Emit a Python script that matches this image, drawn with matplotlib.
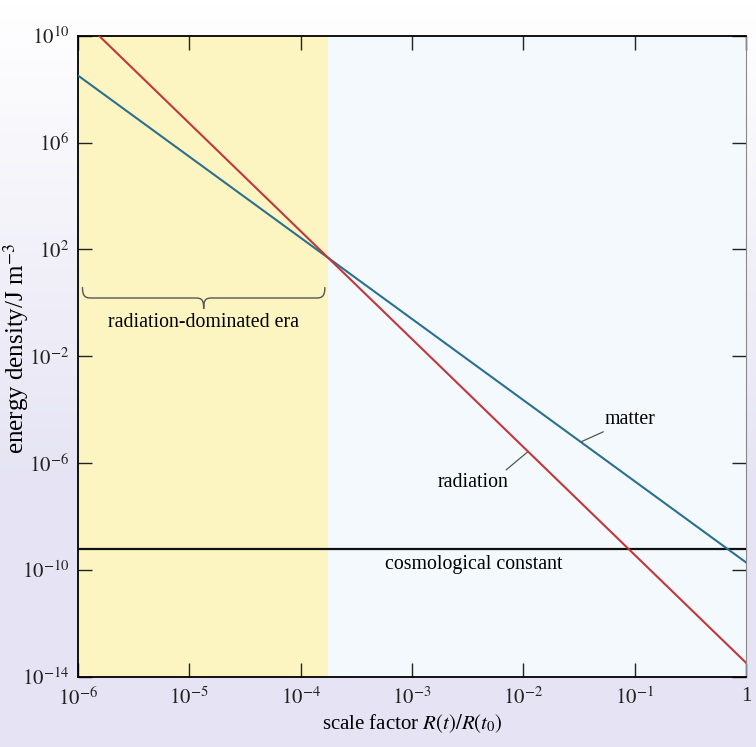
import numpy as np
import matplotlib
matplotlib.use("Agg")
import matplotlib.pyplot as plt
from matplotlib.path import Path
from matplotlib.patches import PathPatch
from matplotlib.ticker import FuncFormatter

plt.rcParams['font.family'] = ['Liberation Serif', 'DejaVu Serif']
plt.rcParams['mathtext.fontset'] = 'stix'

# scale factor range and end points of the two power laws
scale = [1e-6, 1.0]
matter = [3.3e8, 1.9e-10]
radiation = [5.9e10, 3.3e-14]
cosmological = [6.2e-10, 6.2e-10]
era_end = 1.76e-4   # matter-radiation equality

x_ticks = [1e-6, 1e-5, 1e-4, 1e-3, 1e-2, 1e-1, 1.0]
y_ticks = [1e-14, 1e-10, 1e-6, 1e-2, 1e2, 1e6, 1e10]


def power_label(v, pos):
    n = int(round(np.log10(v)))
    if n == 0:
        return '1'
    return r'$10^{%d}$' % n


def to_axes_x(ax, x):
    lo, hi = np.log10(ax.get_xlim())
    return (np.log10(x) - lo) / (hi - lo)


def brace(ax, x0, x1, y, h, color='#555555'):
    # curly brace drawn in axes fraction, opening upwards
    c = 0.5 * (x0 + x1)
    r = 0.012
    verts = [(x0, y + h), (x0, y + 0.3 * h), (x0 + 0.2 * r, y), (x0 + r, y),
             (c - r, y),
             (c - 0.2 * r, y), (c, y - 0.2 * h), (c, y - h),
             (c, y - 0.2 * h), (c + 0.2 * r, y), (c + r, y),
             (x1 - r, y),
             (x1 - 0.2 * r, y), (x1, y + 0.3 * h), (x1, y + h)]
    codes = [Path.MOVETO, Path.CURVE4, Path.CURVE4, Path.CURVE4,
             Path.LINETO,
             Path.CURVE4, Path.CURVE4, Path.CURVE4,
             Path.CURVE4, Path.CURVE4, Path.CURVE4,
             Path.LINETO,
             Path.CURVE4, Path.CURVE4, Path.CURVE4]
    ax.add_patch(PathPatch(Path(verts, codes), transform=ax.transAxes,
                           fill=False, lw=1.0, color=color, clip_on=False))


fig = plt.figure(figsize=(7.56, 7.47), dpi=100)

# page tint behind the figure: white at the top fading to lavender
bg = fig.add_axes([0, 0, 1, 1], zorder=-10)
ramp = np.clip(np.linspace(0, 1.6, 200), 0, 1)[:, None] * np.ones((1, 10))
tint = np.array([1.0, 1.0, 1.0]) * (1 - ramp[..., None]) + \
    np.array([0.905, 0.898, 0.957]) * ramp[..., None]
bg.imshow(tint, aspect='auto', extent=[0, 1, 0, 1], origin='upper')
bg.axis('off')

ax = fig.add_axes([0.103, 0.094, 0.884, 0.858])
ax.set_facecolor('#f3f9fc')
ax.set_xscale('log')
ax.set_yscale('log')
ax.set_xlim(scale[0], scale[1])
ax.set_ylim(1e-14, 1e10)

ax.axvspan(scale[0], era_end, color='#fcf5c1', lw=0, zorder=0)

ax.plot(scale, cosmological, color='#111111', lw=1.6, zorder=3)
ax.plot(scale, matter, color='#2c6f8e', lw=1.5, zorder=3)
ax.plot(scale, radiation, color='#c0383c', lw=1.5, zorder=4)

ax.set_xticks(x_ticks)
ax.set_yticks(y_ticks)
ax.minorticks_off()
ax.xaxis.set_major_formatter(FuncFormatter(power_label))
ax.yaxis.set_major_formatter(FuncFormatter(power_label))
ax.tick_params(which='both', direction='in', length=10, width=1.0,
               top=True, right=True, labelsize=15, pad=6, colors='#222222')
ax.tick_params(axis='x', pad=7.5)
for side in ['left', 'bottom', 'top']:
    ax.spines[side].set_linewidth(1.3)
ax.spines['right'].set_color('#888888')

ax.set_xlabel(r'scale factor $R(t)/R(t_0)$', fontsize=15, va='top')
ax.xaxis.set_label_coords(0.5, -0.056)
ax.set_ylabel(r'energy density/J m$^{-3}$', fontsize=18)
ax.yaxis.set_label_coords(-0.07, 0.512)

brace(ax, to_axes_x(ax, 1.1e-6), to_axes_x(ax, 1.65e-4), 0.591, 0.017)
ax.text(1.33e-5, 0.18, 'radiation-dominated era', fontsize=14.3,
        ha='center', va='center')

ax.annotate('matter', xy=(0.033, 6.3e-6), xytext=(0.054, 4.3e-5),
            fontsize=14.3, ha='left', va='center',
            arrowprops=dict(arrowstyle='-', color='#555555', lw=0.9,
                            shrinkA=0, shrinkB=0))
ax.annotate('', xy=(0.011, 2.7e-6), xytext=(7.0e-3, 5.6e-7),
            arrowprops=dict(arrowstyle='-', color='#555555', lw=0.9,
                            shrinkA=0, shrinkB=0))
ax.text(3.5e-3, 1.9e-7, 'radiation', fontsize=14.3, ha='center', va='center')
ax.text(3.55e-3, 1.55e-10, 'cosmological constant', fontsize=14.3,
        ha='center', va='center')

fig.savefig('out.png', dpi=100)
